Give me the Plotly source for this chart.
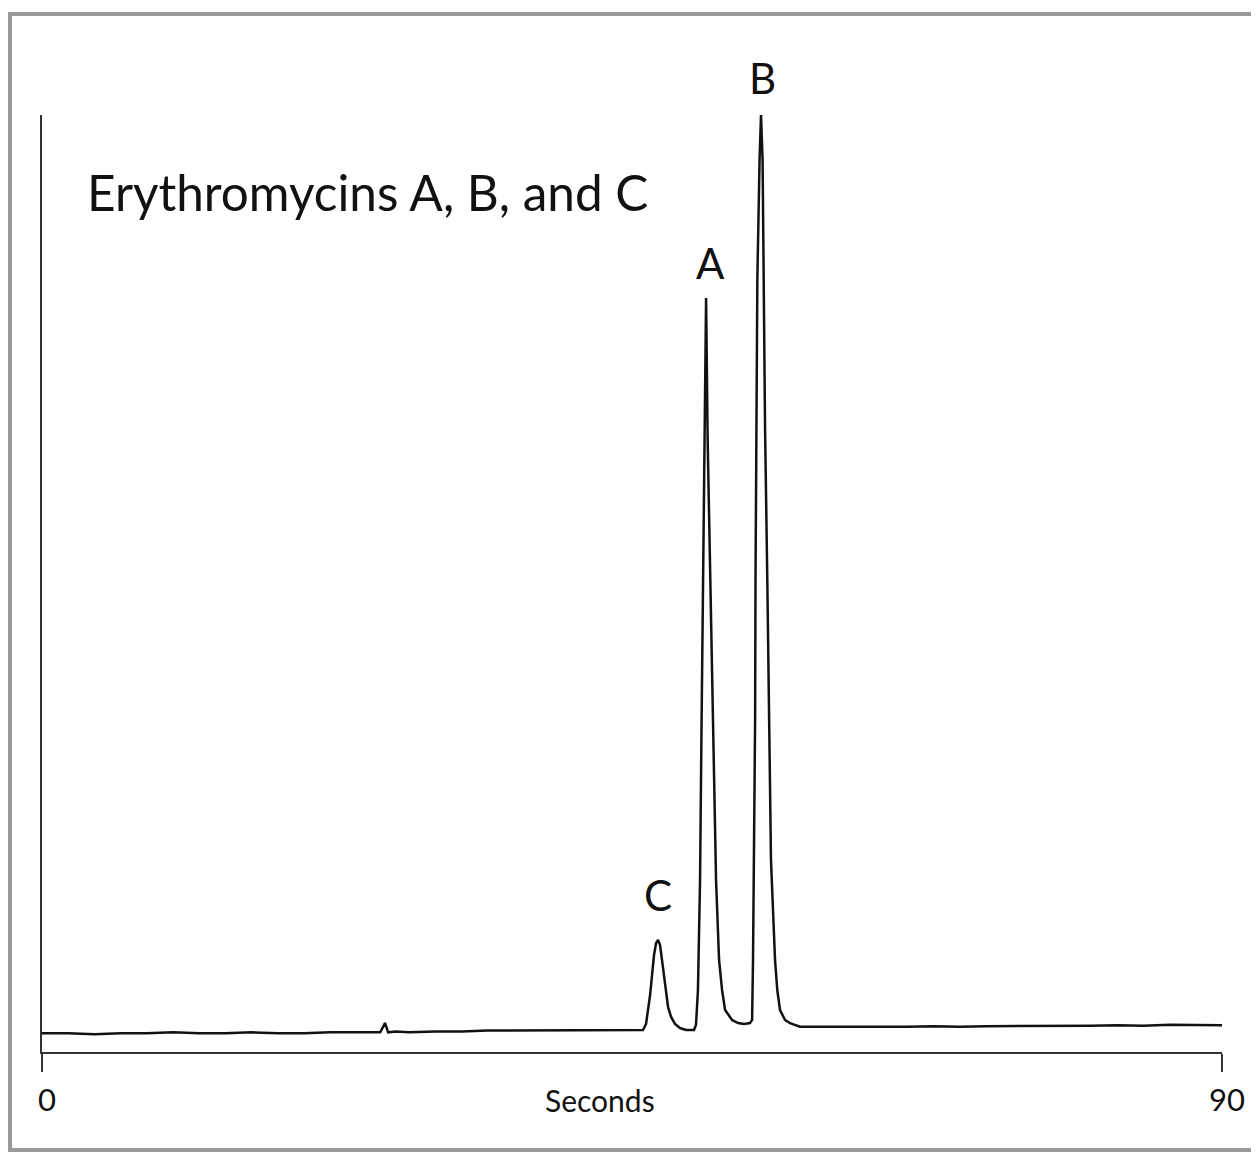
import plotly.graph_objects as go

# Chromatogram trace (time in seconds, relative response with B = 100)
time_s = [0, 2, 4, 6, 8, 10, 12, 14, 16, 18, 20, 22, 24, 25.8, 26.16, 26.4, 27, 28, 30, 32, 34, 36, 38, 40, 42, 44, 45,
          45.84, 46.07, 46.22, 46.38, 46.53, 46.68, 46.84, 46.99, 47.14, 47.29, 47.44, 47.60, 47.75, 47.98, 48.28, 48.66, 49.12, 49.73,
          49.88, 50.03, 50.19, 50.30, 50.42, 50.53, 50.65, 50.77, 50.96, 51.19, 51.41, 51.64, 51.87, 52.10, 52.63, 53.09, 53.55, 54.0,
          54.16, 54.23, 54.31, 54.39, 54.42, 54.56, 54.73, 54.84, 54.96, 55.02, 55.15, 55.32, 55.45, 55.60, 55.91, 56.08, 56.29, 56.67, 57.05, 57.43, 57.81,
          58.5, 60, 62, 64, 66, 68, 70, 72, 74, 76, 78, 80, 82, 84, 86, 88, 90]
response = [2.0, 2.0, 1.9, 2.0, 2.0, 2.1, 2.0, 2.0, 2.1, 2.0, 2.0, 2.1, 2.1, 2.1, 3.1, 2.1, 2.2, 2.1, 2.2, 2.2, 2.3, 2.3, 2.3, 2.3, 2.35, 2.3, 2.35,
            2.35, 2.99, 4.27, 6.08, 8.22, 10.35, 11.63, 11.95, 11.42, 9.82, 7.90, 6.08, 4.80, 3.74, 2.99, 2.56, 2.35, 2.35,
            2.88, 6.62, 18.36, 34.36, 50.37, 65.31, 80.47, 65.31, 50.37, 34.36, 18.36, 9.82, 6.62, 4.48, 3.42, 3.09, 2.99, 3.09,
            3.42, 9.82, 20.49, 35.43, 50.37, 82.4, 95.2, 100.0, 95.2, 82.4, 66.4, 50.37, 35.43, 20.49, 9.82, 6.62, 4.48, 3.42, 3.09, 2.88, 2.70,
            2.7, 2.7, 2.65, 2.7, 2.7, 2.75, 2.7, 2.75, 2.75, 2.8, 2.75, 2.8, 2.85, 2.8, 2.9, 2.85, 2.85]

peak_names = ["C", "A", "B"]
peak_times = [46.98, 50.95, 54.92]
x_ticks = [0, 90]
x_tick_labels = ["0", "90"]

FONT = "Lato"
INK = "#111111"

fig = go.Figure()
fig.add_trace(go.Scatter(x=time_s, y=response, mode="lines",
                         line=dict(color=INK, width=2.5), hoverinfo="x+y", showlegend=False))

# peak labels (C, A in data coords; B above the plot top in paper coords)
fig.add_annotation(x=peak_times[0], y=16.8, xref="x", yref="y", text=peak_names[0], showarrow=False,
                   xanchor="center", yanchor="middle", font=dict(size=42, color=INK, family=FONT))
fig.add_annotation(x=peak_times[1], y=84.2, xref="x", yref="y", text=peak_names[1], showarrow=False,
                   xanchor="center", yanchor="middle", font=dict(size=42, color=INK, family=FONT))
fig.add_annotation(x=peak_times[2], y=1.0395, xref="x", yref="paper", text=peak_names[2], showarrow=False,
                   xanchor="center", yanchor="middle", font=dict(size=42, color=INK, family=FONT))

# title inside plot
fig.add_annotation(x=0.0364, y=0.918, xref="paper", yref="paper", xanchor="left", yanchor="middle",
                   text="Erythromycins A, B, and C", showarrow=False,
                   font=dict(size=49.5, color=INK, family=FONT))

# axis title
fig.add_annotation(x=0.473, y=-0.0512, xref="paper", yref="paper", text="Seconds", showarrow=False,
                   xanchor="center", yanchor="middle", font=dict(size=30, color=INK, family=FONT))

# outer frame
fig.add_shape(type="rect", xref="paper", yref="paper", x0=-0.0271, x1=1.0297, y0=-0.1046, y1=1.1078,
              line=dict(color="#999999", width=4), fillcolor="rgba(0,0,0,0)", layer="below")

fig.update_layout(
    width=1251, height=1145,
    margin=dict(l=34, r=37, t=107, b=101),
    paper_bgcolor="white", plot_bgcolor="white",
    font=dict(family=FONT, color=INK),
    xaxis=dict(range=[0, 90], showgrid=False, zeroline=False, showline=True, linecolor="#333333", linewidth=2,
               ticks="outside", ticklen=18, tickwidth=2, tickcolor="#333333",
               tickvals=x_ticks, ticktext=x_tick_labels, tickfont=dict(size=31, family=FONT, color=INK),
               ticklabelstandoff=2, ticklabelshift=5),
    yaxis=dict(range=[0, 100], showgrid=False, zeroline=False, showline=True, linecolor="#333333", linewidth=2,
               ticks="", showticklabels=False),
)

fig.write_html("out.html")
